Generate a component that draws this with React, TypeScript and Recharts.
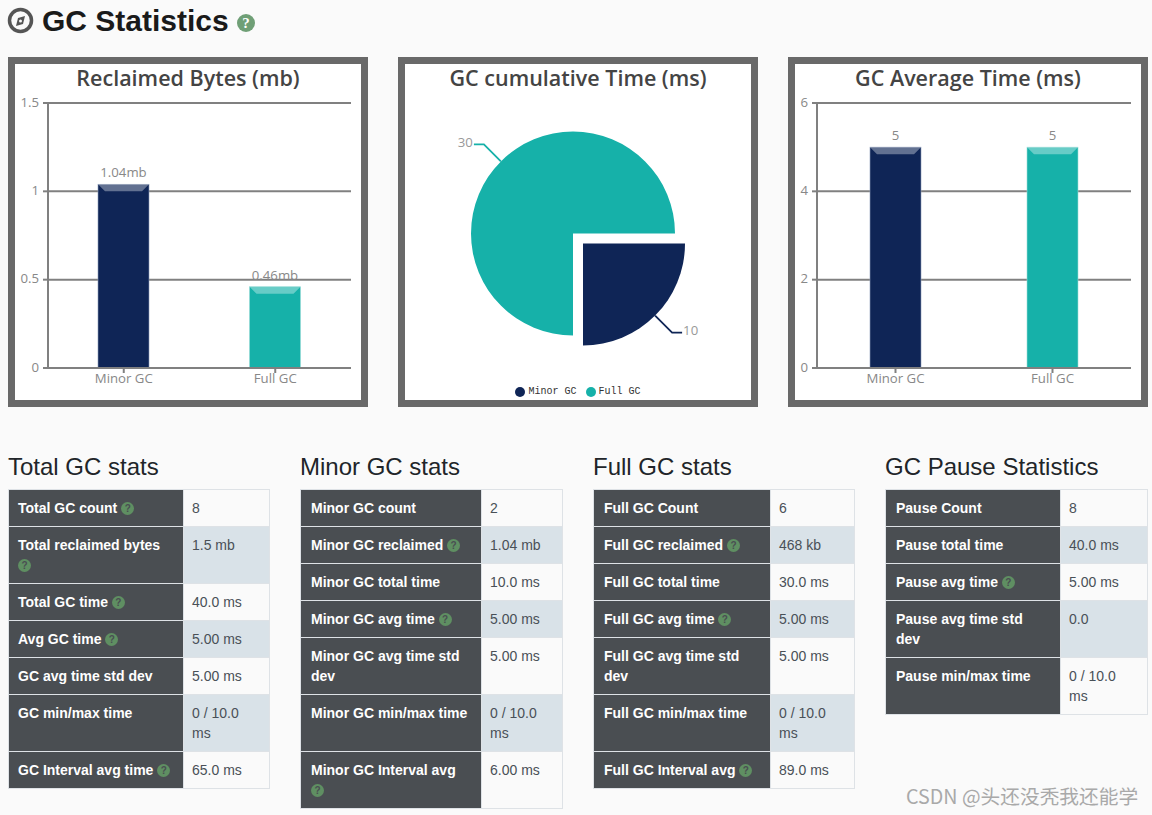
import React from 'react';
import { BarChart, Bar, XAxis, YAxis, CartesianGrid, LabelList, PieChart, Pie, Cell, Legend } from 'recharts';

const categories = ['Minor GC', 'Full GC'];
const reclaimedMb = [1.04, 0.46];
const reclaimedTicks = [0, 0.5, 1, 1.5];
const cumulativeMs = [10, 30];
const averageMs = [5, 5];
const averageTicks = [0, 2, 4, 6];
const colors = ['#0f2556', '#16b1a9'];

type Row = [string, string, boolean];

const totalRows: Row[] = [
  ['Total GC count', '8', true],
  ['Total reclaimed bytes', '1.5 mb', true],
  ['Total GC time', '40.0 ms', true],
  ['Avg GC time', '5.00 ms', true],
  ['GC avg time std dev', '5.00 ms', false],
  ['GC min/max time', '0 / 10.0 ms', false],
  ['GC Interval avg time', '65.0 ms', true],
];
const minorRows: Row[] = [
  ['Minor GC count', '2', false],
  ['Minor GC reclaimed', '1.04 mb', true],
  ['Minor GC total time', '10.0 ms', false],
  ['Minor GC avg time', '5.00 ms', true],
  ['Minor GC avg time std dev', '5.00 ms', false],
  ['Minor GC min/max time', '0 / 10.0 ms', false],
  ['Minor GC Interval avg', '6.00 ms', true],
];
const fullRows: Row[] = [
  ['Full GC Count', '6', false],
  ['Full GC reclaimed', '468 kb', true],
  ['Full GC total time', '30.0 ms', false],
  ['Full GC avg time', '5.00 ms', true],
  ['Full GC avg time std dev', '5.00 ms', false],
  ['Full GC min/max time', '0 / 10.0 ms', false],
  ['Full GC Interval avg', '89.0 ms', true],
];
const pauseRows: Row[] = [
  ['Pause Count', '8', false],
  ['Pause total time', '40.0 ms', false],
  ['Pause avg time', '5.00 ms', true],
  ['Pause avg time std dev', '0.0', false],
  ['Pause min/max time', '0 / 10.0 ms', false],
];

const chartFont = '"Open Sans", sans-serif';
const sansFont = '"Liberation Sans", Arial, sans-serif';

const HelpIcon = ({ size = 13, fill = '#5f8f62', color = '#4a4e52' }: { size?: number; fill?: string; color?: string }) => (
  <span
    style={{
      display: 'inline-block',
      width: size,
      height: size,
      lineHeight: `${size}px`,
      borderRadius: '50%',
      background: fill,
      color,
      fontSize: size - 3,
      fontWeight: 700,
      textAlign: 'center',
      verticalAlign: 'middle',
      position: 'relative',
      top: -1,
    }}
  >
    ?
  </span>
);

const BevelBar = (props: any) => {
  const { x, y, width, height, index } = props;
  const light = index === 0 ? '#8c9bb8' : '#9adcd8';
  return (
    <g>
      <rect x={x} y={y} width={width} height={height} fill={colors[index]} stroke={light} strokeWidth={0.6} />
      <polygon
        points={`${x},${y} ${x + width},${y} ${x + width - 7},${y + 7} ${x + 7},${y + 7}`}
        fill="#ffffff"
        fillOpacity={0.35}
      />
    </g>
  );
};

const Panel = ({ left, title, children }: { left: number; title: string; children: React.ReactNode }) => (
  <div
    style={{
      position: 'absolute',
      left,
      top: 57,
      width: 346,
      height: 336,
      background: '#fff',
      border: '7px solid #696969',
    }}
  >
    {children}
    <div
      style={{
        position: 'absolute',
        left: 0,
        top: -1,
        width: 346,
        textAlign: 'center',
        fontFamily: chartFont,
        fontSize: 21.5,
        fontWeight: 600,
        lineHeight: '29px',
        color: '#444',
      }}
    >
      {title}
    </div>
  </div>
);

const GcBars = ({
  values,
  ticks,
  axisWidth,
  suffix,
}: {
  values: number[];
  ticks: number[];
  axisWidth: number;
  suffix: string;
}) => {
  const data = categories.map((name, i) => ({ name, value: values[i] }));
  return (
    <BarChart
      width={346}
      height={336}
      data={data}
      margin={{ top: 39, right: 10, bottom: 2, left: 0 }}
      style={{ position: 'absolute', left: 0, top: 0 }}
    >
      <CartesianGrid horizontal vertical={false} stroke="#808080" strokeWidth={2} />
      <XAxis
        dataKey="name"
        height={30}
        stroke="#808080"
        strokeWidth={2}
        tickSize={5}
        tickMargin={1}
        tick={{ fill: '#888', fontSize: 13.2, fontFamily: chartFont }}
      />
      <YAxis
        width={axisWidth}
        domain={[ticks[0], ticks[ticks.length - 1]]}
        ticks={ticks}
        stroke="#808080"
        strokeWidth={2}
        tickSize={5}
        tickMargin={4}
        tick={{ fill: '#888', fontSize: 13.2, fontFamily: chartFont, dy: -1 }}
      />
      <Bar dataKey="value" barSize={51} shape={BevelBar} isAnimationActive={false}>
        <LabelList
          dataKey="value"
          position="top"
          offset={7}
          formatter={(v: any) => `${v}${suffix}`}
          style={{ fill: '#888', fontSize: 13.2, fontFamily: chartFont }}
        />
      </Bar>
    </BarChart>
  );
};

const RADIAN = Math.PI / 180;

const SliceLabel = (props: any) => {
  const { cx, cy, midAngle, outerRadius, value, fill } = props;
  const sx = cx + outerRadius * Math.cos(-midAngle * RADIAN);
  const sy = cy + outerRadius * Math.sin(-midAngle * RADIAN);
  const mx = cx + (outerRadius + 24) * Math.cos(-midAngle * RADIAN);
  const my = cy + (outerRadius + 24) * Math.sin(-midAngle * RADIAN);
  const dir = sx > cx ? 1 : -1;
  const ex = mx + dir * 10;
  return (
    <g>
      <polyline points={`${sx},${sy} ${mx},${my} ${ex},${my}`} fill="none" stroke={fill} strokeWidth={1.8} />
      <text
        x={ex + dir}
        y={my - 1}
        textAnchor={dir > 0 ? 'start' : 'end'}
        dominantBaseline="middle"
        fill="#999"
        fontSize={13.2}
        fontFamily={chartFont}
      >
        {value}
      </text>
    </g>
  );
};

const PieLegend = () => (
  <div style={{ display: 'flex', justifyContent: 'center', alignItems: 'center', gap: 9 }}>
    {categories.map((name, i) => (
      <span key={name} style={{ display: 'flex', alignItems: 'center', gap: 3, fontFamily: '"Liberation Mono", monospace', fontSize: 10, color: '#333' }}>
        <span style={{ width: 10, height: 10, borderRadius: '50%', background: colors[i], display: 'inline-block' }} />
        {name}
      </span>
    ))}
  </div>
);

const CumulativePie = () => {
  const total = cumulativeMs[0] + cumulativeMs[1];
  const split = -(cumulativeMs[0] / total) * 360;
  const minor = [{ name: categories[0], value: cumulativeMs[0] }];
  const full = [{ name: categories[1], value: cumulativeMs[1] }];
  return (
    <PieChart
      width={346}
      height={336}
      margin={{ top: 0, right: 0, bottom: 0, left: 0 }}
      style={{ position: 'absolute', left: 0, top: 0 }}
    >
      <Pie
        data={full}
        dataKey="value"
        cx={168}
        cy={169.5}
        outerRadius={102}
        startAngle={split}
        endAngle={-360}
        stroke="none"
        labelLine={false}
        label={SliceLabel}
        isAnimationActive={false}
      >
        <Cell fill={colors[1]} />
      </Pie>
      <Pie
        data={minor}
        dataKey="value"
        cx={178}
        cy={179.5}
        outerRadius={102}
        startAngle={0}
        endAngle={split}
        stroke="none"
        labelLine={false}
        label={SliceLabel}
        isAnimationActive={false}
      >
        <Cell fill={colors[0]} />
      </Pie>
      <Legend content={PieLegend} verticalAlign="bottom" wrapperStyle={{ bottom: 3 }} />
    </PieChart>
  );
};

const StatsTable = ({
  left,
  title,
  rows,
  headWidth,
  cellWidth,
  padLeft = 10,
}: {
  left: number;
  title: string;
  rows: Row[];
  headWidth: number;
  cellWidth: number;
  padLeft?: number;
}) => (
  <div style={{ position: 'absolute', left, top: 452, fontFamily: sansFont }}>
    <div style={{ fontSize: 24, lineHeight: '29px', color: '#212529', marginBottom: 8 }}>{title}</div>
    <table style={{ borderCollapse: 'collapse', tableLayout: 'fixed', width: headWidth + cellWidth, fontSize: 14 }}>
      <tbody>
        {rows.map(([label, value, help], i) => (
          <tr key={label}>
            <th
              style={{
                width: headWidth,
                boxSizing: 'border-box',
                padding: `8px 12px 8px ${padLeft}px`,
                lineHeight: '20px',
                background: '#4a4e52',
                color: '#fff',
                border: '1px solid #dee2e6',
                textAlign: 'left',
                verticalAlign: 'top',
              }}
            >
              {label} {help ? <HelpIcon /> : null}
            </th>
            <td
              style={{
                width: cellWidth,
                boxSizing: 'border-box',
                padding: '8px 9px 8px 8px',
                lineHeight: '20px',
                background: i % 2 === 1 ? '#d9e2e8' : '#fafafa',
                color: '#495057',
                border: '1px solid #dee2e6',
                verticalAlign: 'top',
              }}
            >
              {value}
            </td>
          </tr>
        ))}
      </tbody>
    </table>
  </div>
);

export default function App() {
  return (
    <div style={{ position: 'fixed', left: 0, top: 0, width: 1152, height: 815, background: '#fafafa', overflow: 'hidden' }}>
      <svg width={27} height={27} style={{ position: 'absolute', left: 7, top: 7 }}>
        <circle cx={13.5} cy={13.5} r={11} fill="none" stroke="#555" strokeWidth={3.5} />
        <polygon points="18,9 16,17 9,19 11,11" fill="#555" />
        <circle cx={13.5} cy={14} r={1.5} fill="#fafafa" />
      </svg>
      <div style={{ position: 'absolute', left: 42, top: 3, fontFamily: sansFont, fontSize: 30, fontWeight: 700, lineHeight: '36px', color: '#1a1a1a' }}>
        GC Statistics
      </div>
      <div style={{ position: 'absolute', left: 237, top: 15, lineHeight: 0 }}>
        <HelpIcon size={18} fill="#6f9f76" color="#fff" />
      </div>

      <Panel left={8} title="Reclaimed Bytes (mb)">
        <GcBars values={reclaimedMb} ticks={reclaimedTicks} axisWidth={33} suffix="mb" />
      </Panel>
      <Panel left={398} title="GC cumulative Time (ms)">
        <CumulativePie />
      </Panel>
      <Panel left={788} title="GC Average Time (ms)">
        <GcBars values={averageMs} ticks={averageTicks} axisWidth={22} suffix="" />
      </Panel>

      <StatsTable left={8} title="Total GC stats" rows={totalRows} headWidth={175} cellWidth={86} padLeft={9} />
      <StatsTable left={300} title="Minor GC stats" rows={minorRows} headWidth={181} cellWidth={81} />
      <StatsTable left={593} title="Full GC stats" rows={fullRows} headWidth={177} cellWidth={84} />
      <StatsTable left={885} title="GC Pause Statistics" rows={pauseRows} headWidth={175} cellWidth={87} />

      <div style={{ position: 'absolute', left: 906, top: 783, fontFamily: '"Noto Sans CJK SC", sans-serif', fontSize: 19.7, lineHeight: '26px', color: '#a9a9a9' }}>
        CSDN @头还没秃我还能学
      </div>
    </div>
  );
}
